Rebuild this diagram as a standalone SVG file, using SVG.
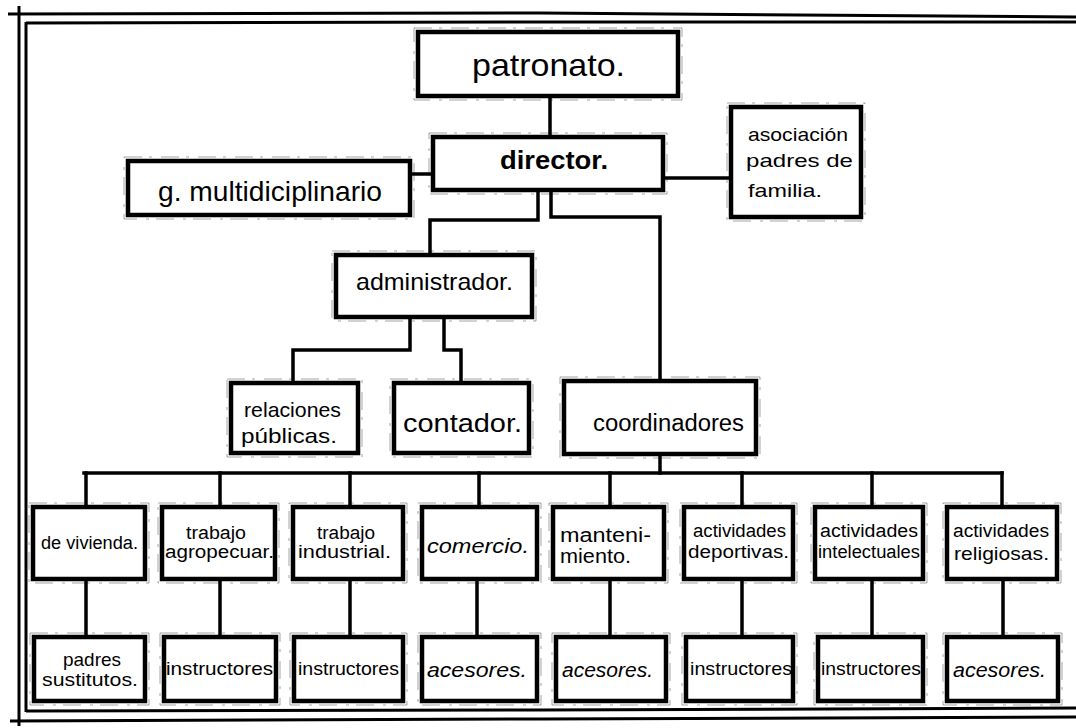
<svg xmlns="http://www.w3.org/2000/svg" width="1076" height="728" viewBox="0 0 1076 728">
<style>
.box{fill:#fff;stroke:#000;stroke-width:4.5;stroke-linejoin:miter}
.guide{fill:none;stroke:#000;stroke-width:0.8;stroke-dasharray:18 7 3 9;opacity:.45}
.conn{fill:none;stroke:#000;stroke-width:3.5;stroke-linecap:square;stroke-linejoin:miter}
.fr{fill:none;stroke:#000;stroke-width:3}
.t{font-family:"Liberation Sans",Arial,sans-serif;fill:#000}
.i{font-style:italic}
</style>
<rect width="1076" height="728" fill="#fff"/>
<g id="frame">
<path class="fr" d="M8,14 L540,13 L1076,17"/>
<path class="fr" d="M26,23 L540,22 L1076,22" stroke-width="4"/>
<path class="fr" d="M19,6 L19,726"/>
<path class="fr" d="M26,22 L26,712" stroke-width="4"/>
<path class="fr" d="M26,711 L540,710 L1076,708" stroke-width="4"/>
<path class="fr" d="M10,721 L540,719 L1076,717"/>
</g>
<g id="connectors">
<path class="conn" d="M550,96 V137" stroke-width="6"/>
<path class="conn" d="M410,174 H433"/>
<path class="conn" d="M663,178 H731"/>
<path class="conn" d="M538,190 V220 H430 V255"/>
<path class="conn" d="M551,190 V217 H660 V381"/>
<path class="conn" d="M410,317 V350 H293 V383"/>
<path class="conn" d="M444,317 V350 H461 V383"/>
<path class="conn" d="M660,454 V473"/>
<path class="conn" d="M84,473 H1002"/>
<path class="conn" d="M86,473 V507 M220,473 V507 M350,473 V507 M479,473 V507 M610,473 V507 M742,473 V507 M872,473 V507 M1002,473 V507"/>
<path class="conn" d="M86,579 V637 M220,579 V637 M350,579 V637 M477,579 V637 M610,579 V637 M742,579 V637 M872,579 V637 M1003,579 V637"/>
</g>
<g id="patronato">
<rect class="guide" x="414" y="28" width="268" height="72"/>
<rect class="box" x="418" y="32" width="260" height="64"/>
<text class="t" x="472" y="76" font-size="32" textLength="153" lengthAdjust="spacingAndGlyphs">patronato.</text>
</g>
<g id="director">
<rect class="guide" x="429" y="133" width="238" height="61"/>
<rect class="box" x="433" y="137" width="230" height="53"/>
<text class="t" x="500" y="169" font-size="25" font-weight="bold" textLength="108" lengthAdjust="spacingAndGlyphs">director.</text>
</g>
<g id="g-multidiciplinario">
<rect class="guide" x="124" y="157" width="290" height="62"/>
<rect class="box" x="128" y="161" width="282" height="54"/>
<text class="t" x="158" y="201" font-size="28" textLength="224" lengthAdjust="spacingAndGlyphs">g. multidiciplinario</text>
</g>
<g id="asociacion">
<rect class="guide" x="727" y="103" width="138" height="118"/>
<rect class="box" x="731" y="107" width="130" height="110"/>
<text class="t" font-size="19" x="748" y="141" textLength="100" lengthAdjust="spacingAndGlyphs">asociación</text>
<text class="t" font-size="19" x="746" y="167" textLength="107" lengthAdjust="spacingAndGlyphs">padres de</text>
<text class="t" font-size="19" x="748" y="197" textLength="74" lengthAdjust="spacingAndGlyphs">familia.</text>
</g>
<g id="administrador">
<rect class="guide" x="332" y="251" width="204" height="70"/>
<rect class="box" x="336" y="255" width="196" height="62"/>
<text class="t" x="356" y="290" font-size="24" textLength="157" lengthAdjust="spacingAndGlyphs">administrador.</text>
</g>
<g id="relaciones-publicas">
<rect class="guide" x="227" y="379" width="135" height="78"/>
<rect class="box" x="231" y="383" width="127" height="70"/>
<text class="t" x="244" y="417" font-size="21" textLength="97" lengthAdjust="spacingAndGlyphs">relaciones</text>
<text class="t" x="241" y="443" font-size="21" textLength="96" lengthAdjust="spacingAndGlyphs">públicas.</text>
</g>
<g id="contador">
<rect class="guide" x="390" y="379" width="143" height="78"/>
<rect class="box" x="394" y="383" width="135" height="70"/>
<text class="t" x="403" y="432" font-size="25" textLength="119" lengthAdjust="spacingAndGlyphs">contador.</text>
</g>
<g id="coordinadores">
<rect class="guide" x="560" y="377" width="200" height="81"/>
<rect class="box" x="564" y="381" width="192" height="73"/>
<text class="t" x="593" y="431" font-size="23" textLength="151" lengthAdjust="spacingAndGlyphs">coordinadores</text>
</g>
<g id="de-vivienda">
<rect class="guide" x="29" y="503" width="120" height="80"/>
<rect class="box" x="33" y="507" width="112" height="72"/>
<text class="t" x="41" y="549" font-size="18" textLength="97" lengthAdjust="spacingAndGlyphs">de vivienda.</text>
</g>
<g id="trabajo-agropecuar">
<rect class="guide" x="158" y="503" width="121" height="80"/>
<rect class="box" x="162" y="507" width="113" height="72"/>
<text class="t" x="186" y="539" font-size="18" textLength="60" lengthAdjust="spacingAndGlyphs">trabajo</text>
<text class="t" x="165" y="558" font-size="18" textLength="109" lengthAdjust="spacingAndGlyphs">agropecuar.</text>
</g>
<g id="trabajo-industrial">
<rect class="guide" x="289" y="503" width="118" height="80"/>
<rect class="box" x="293" y="507" width="110" height="72"/>
<text class="t" x="317" y="539" font-size="18" textLength="58" lengthAdjust="spacingAndGlyphs">trabajo</text>
<text class="t" x="298" y="558" font-size="18" textLength="93" lengthAdjust="spacingAndGlyphs">industrial.</text>
</g>
<g id="comercio">
<rect class="guide" x="418" y="503" width="123" height="80"/>
<rect class="box" x="422" y="507" width="115" height="72"/>
<text class="t i" x="427" y="553" font-size="21" textLength="102" lengthAdjust="spacingAndGlyphs">comercio.</text>
</g>
<g id="mantenimiento">
<rect class="guide" x="549" y="503" width="119" height="80"/>
<rect class="box" x="553" y="507" width="111" height="72"/>
<text class="t" x="560" y="542" font-size="20" textLength="91" lengthAdjust="spacingAndGlyphs">manteni-</text>
<text class="t" x="560" y="563" font-size="20" textLength="71" lengthAdjust="spacingAndGlyphs">miento.</text>
</g>
<g id="actividades-deportivas">
<rect class="guide" x="680" y="503" width="117" height="80"/>
<rect class="box" x="684" y="507" width="109" height="72"/>
<text class="t" x="693" y="537" font-size="18" textLength="93" lengthAdjust="spacingAndGlyphs">actividades</text>
<text class="t" x="688" y="558" font-size="18" textLength="101" lengthAdjust="spacingAndGlyphs">deportivas.</text>
</g>
<g id="actividades-intelectuales">
<rect class="guide" x="811" y="503" width="116" height="80"/>
<rect class="box" x="815" y="507" width="108" height="72"/>
<text class="t" x="820" y="537" font-size="18" textLength="98" lengthAdjust="spacingAndGlyphs">actividades</text>
<text class="t" x="818" y="558" font-size="18" textLength="102" lengthAdjust="spacingAndGlyphs">intelectuales</text>
</g>
<g id="actividades-religiosas">
<rect class="guide" x="943" y="503" width="118" height="80"/>
<rect class="box" x="947" y="507" width="110" height="72"/>
<text class="t" x="953" y="537" font-size="18" textLength="96" lengthAdjust="spacingAndGlyphs">actividades</text>
<text class="t" x="954" y="560" font-size="19" textLength="95" lengthAdjust="spacingAndGlyphs">religiosas.</text>
</g>
<g id="padres-sustitutos">
<rect class="guide" x="30" y="633" width="119" height="72"/>
<rect class="box" x="34" y="637" width="111" height="64"/>
<text class="t" x="63" y="666" font-size="19" textLength="58" lengthAdjust="spacingAndGlyphs">padres</text>
<text class="t" x="42" y="686" font-size="19" textLength="96" lengthAdjust="spacingAndGlyphs">sustitutos.</text>
</g>
<g id="instructores-1">
<rect class="guide" x="160" y="633" width="120" height="72"/>
<rect class="box" x="164" y="637" width="112" height="64"/>
<text class="t" x="166" y="675" font-size="19" textLength="107" lengthAdjust="spacingAndGlyphs">instructores</text>
</g>
<g id="instructores-2">
<rect class="guide" x="290" y="633" width="117" height="72"/>
<rect class="box" x="294" y="637" width="109" height="64"/>
<text class="t" x="298" y="675" font-size="19" textLength="101" lengthAdjust="spacingAndGlyphs">instructores</text>
</g>
<g id="acesores-1">
<rect class="guide" x="418" y="633" width="123" height="72"/>
<rect class="box" x="422" y="637" width="115" height="64"/>
<text class="t i" x="427" y="677" font-size="21" textLength="100" lengthAdjust="spacingAndGlyphs">acesores.</text>
</g>
<g id="acesores-2">
<rect class="guide" x="552" y="633" width="118" height="72"/>
<rect class="box" x="556" y="637" width="110" height="64"/>
<text class="t i" x="562" y="677" font-size="20" textLength="91" lengthAdjust="spacingAndGlyphs">acesores.</text>
</g>
<g id="instructores-3">
<rect class="guide" x="682" y="633" width="115" height="72"/>
<rect class="box" x="686" y="637" width="107" height="64"/>
<text class="t" x="690" y="675" font-size="19" textLength="102" lengthAdjust="spacingAndGlyphs">instructores</text>
</g>
<g id="instructores-4">
<rect class="guide" x="814" y="633" width="113" height="72"/>
<rect class="box" x="818" y="637" width="105" height="64"/>
<text class="t" x="821" y="675" font-size="19" textLength="100" lengthAdjust="spacingAndGlyphs">instructores</text>
</g>
<g id="acesores-3">
<rect class="guide" x="943" y="633" width="119" height="72"/>
<rect class="box" x="947" y="637" width="111" height="64"/>
<text class="t i" x="953" y="677" font-size="20" textLength="93" lengthAdjust="spacingAndGlyphs">acesores.</text>
</g>
</svg>
